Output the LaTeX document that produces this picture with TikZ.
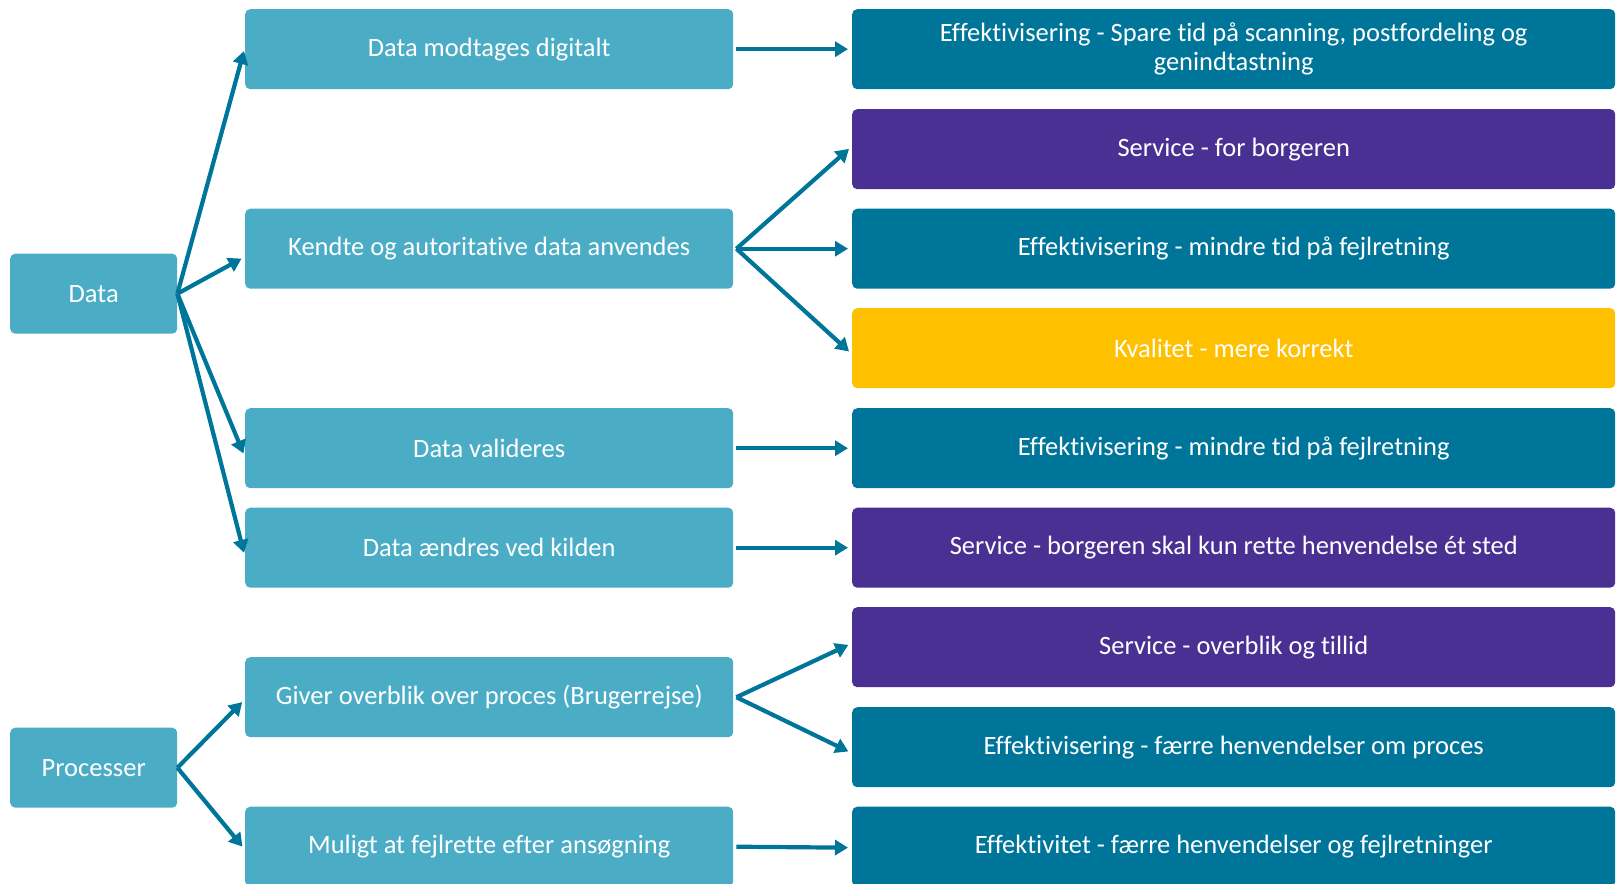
\documentclass[tikz,border=0pt]{standalone}
\usepackage{fontspec}
\setmainfont{Carlito}[Ligatures=NoCommon]
\usetikzlibrary{arrows.meta}
\definecolor{lteal}{HTML}{4BACC6}
\definecolor{dteal}{HTML}{00759A}
\definecolor{purp}{HTML}{4A3092}
\definecolor{gold}{HTML}{FFC000}
\begin{document}
\begin{tikzpicture}[x=1pt,y=-1pt,
  box/.style={rectangle, rounded corners=5pt, text=white, font=\fontsize{26.5}{29}\selectfont, align=center, anchor=north west, inner sep=0pt},
  leftbox/.style={box, fill=lteal, minimum width=167pt, minimum height=80pt},
  midbox/.style={box, fill=lteal, minimum width=488pt, minimum height=80pt},
  rbox/.style={box, minimum width=763pt, minimum height=80pt},
  arr/.style={draw=dteal, line width=4.2pt, -{Triangle[length=13pt,width=15pt]}, shorten >=4pt}
]
\useasboundingbox (0,0) rectangle (1616,883);
% left
\node[leftbox] (data) at (10,253.5) {Data};
\node[leftbox] (proc) at (10,727.5) {Processer};
% middle
\node[midbox] (m1) at (245,9) {Data modtages digitalt};
\node[midbox] (m2) at (245,208.5) {Kendte og autoritative data anvendes};
\node[midbox] (m3) at (245,408) {Data valideres};
\node[midbox] (m4) at (245,507.5) {Data ændres ved kilden};
\node[midbox] (m5) at (245,657) {Giver overblik over proces (Brugerrejse)};
\node[midbox] (m6) at (245,806.5) {Muligt at fejlrette efter ansøgning};
% right
\node[rbox, fill=dteal] (r1) at (852,9) {Effektivisering - Spare tid på scanning, postfordeling og\\genindtastning};
\node[rbox, fill=purp] (r2) at (852,109) {Service - for borgeren};
\node[rbox, fill=dteal] (r3) at (852,208.5) {Effektivisering - mindre tid på fejlretning};
\node[rbox, fill=gold] (r4) at (852,308) {Kvalitet - mere korrekt};
\node[rbox, fill=dteal] (r5) at (852,408) {Effektivisering - mindre tid på fejlretning};
\node[rbox, fill=purp] (r6) at (852,507.5) {Service - borgeren skal kun rette henvendelse ét sted};
\node[rbox, fill=purp] (r7) at (852,607) {Service - overblik og tillid};
\node[rbox, fill=dteal] (r8) at (852,707) {Effektivisering - færre henvendelser om proces};
\node[rbox, fill=dteal] (r9) at (852,806.5) {Effektivitet - færre henvendelser og fejlretninger};
% arrows
\draw[arr] (data.east) -- ([yshift=2pt]m1.west);
\draw[arr] (data.east) -- ([yshift=-8pt]m2.west);
\draw[arr] (data.east) -- ([yshift=-9pt]m3.west);
\draw[arr] (data.east) -- ([yshift=-9pt]m4.west);
\draw[arr] (proc.east) -- ([yshift=-2pt]m5.west);
\draw[arr] (proc.east) -- ([yshift=-3pt]m6.west);
\draw[arr] ([xshift=3pt]m1.east) -- ([yshift=0pt]r1.west);
\draw[arr] ([xshift=3pt]m2.east) -- ([yshift=3pt]r2.west);
\draw[arr] ([xshift=3pt]m2.east) -- (r3.west);
\draw[arr] ([xshift=3pt]m2.east) -- ([yshift=-6pt]r4.west);
\draw[arr] ([xshift=3pt]m3.east) -- (r5.west);
\draw[arr] ([xshift=3pt]m4.east) -- (r6.west);
\draw[arr] ([xshift=3pt]m5.east) -- ([yshift=4pt]r7.west);
\draw[arr] ([xshift=3pt]m5.east) -- ([yshift=-6pt]r8.west);
\draw[arr] ([xshift=3pt]m6.east) -- ([yshift=-1pt]r9.west);
\end{tikzpicture}
\end{document}
